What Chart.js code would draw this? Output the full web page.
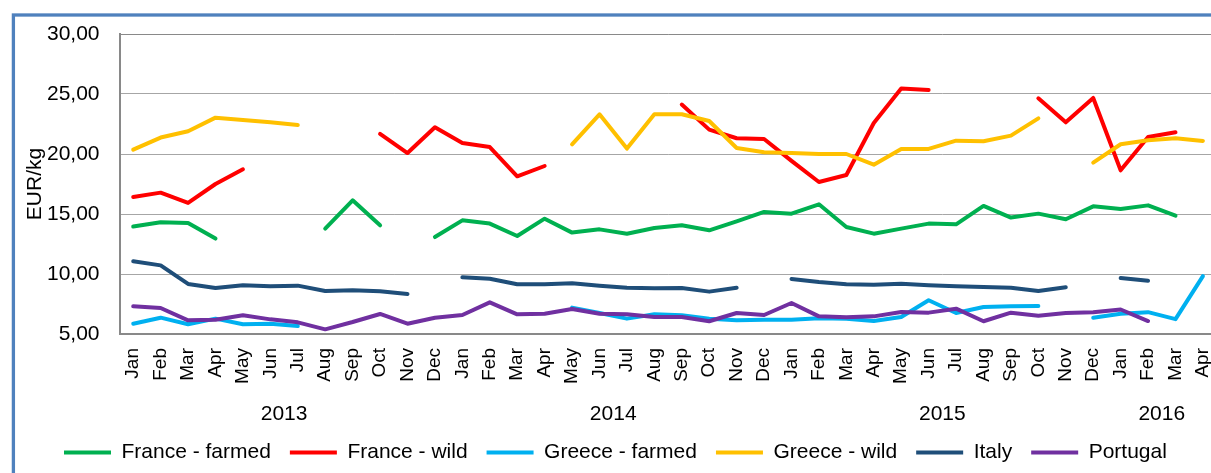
<!DOCTYPE html>
<html>
<head>
<meta charset="utf-8">
<title>Price per kg</title>
<script src="https://cdn.jsdelivr.net/npm/chart.js@4.4.0/dist/chart.umd.min.js"></script>
<style>
  html, body { margin: 0; padding: 0; background: #fff; width: 1211px; height: 473px; overflow: hidden; }
  canvas { display: block; }
</style>
</head>
<body>
<canvas id="chart" width="1240" height="473"></canvas>
<script>
// Monthly categories, Jan 2013 – Apr 2016
const monthLabels = [
  'Jan','Feb','Mar','Apr','May','Jun','Jul','Aug','Sep','Oct','Nov','Dec',
  'Jan','Feb','Mar','Apr','May','Jun','Jul','Aug','Sep','Oct','Nov','Dec',
  'Jan','Feb','Mar','Apr','May','Jun','Jul','Aug','Sep','Oct','Nov','Dec',
  'Jan','Feb','Mar','Apr'
];

// Year groups shown under the month labels (first and last month index of each year)
const yearNames = ['2013', '2014', '2015', '2016'];
const yearFirst = [0, 12, 24, 36];
const yearLast  = [11, 23, 35, 39];

// EUR/kg per series (null = no data that month)
const franceFarmed = [
  13.95, 14.31, 14.25, 12.95, null, null, null, 13.78, 16.14, 14.06, null, 13.08,
  14.47, 14.20, 13.17, 14.61, 13.45, 13.72, 13.36, 13.84, 14.06, 13.64, 14.39, 15.17,
  15.03, 15.81, 13.92, 13.36, 13.78, 14.20, 14.14, 15.67, 14.70, 15.03, 14.56, 15.64,
  15.42, 15.72, 14.86, null
];
const franceWild = [
  16.42, 16.78, 15.92, 17.50, 18.72, null, null, null, null, 21.67, 20.08, 22.23,
  20.92, 20.58, 18.14, 19.00, null, null, null, null, 24.12, 22.03, 21.31, 21.25,
  19.43, 17.67, 18.25, 22.58, 25.45, 25.34, null, null, null, 24.64, 22.64, 24.67,
  18.64, 21.42, 21.81, null
];
const greeceFarmed = [
  5.86, 6.36, 5.81, 6.28, 5.81, 5.86, 5.67, null, null, null, null, null,
  null, null, null, null, 7.20, 6.75, 6.28, 6.64, 6.56, 6.28, 6.14, 6.19,
  6.19, 6.31, 6.28, 6.08, 6.42, 7.81, 6.75, 7.25, 7.31, 7.33, null, 6.36,
  6.68, 6.82, 6.24, 9.82
];
const greeceWild = [
  20.36, 21.37, 21.90, 23.03, 22.83, 22.64, 22.42, null, null, null, null, null,
  null, null, null, null, 20.81, 23.31, 20.45, 23.31, 23.31, 22.75, 20.50, 20.14,
  20.08, 20.00, 20.00, 19.11, 20.42, 20.42, 21.11, 21.06, 21.53, 22.97, null, 19.28,
  20.81, 21.14, 21.31, 21.09
];
const italy = [
  11.06, 10.72, 9.17, 8.83, 9.06, 8.97, 9.03, 8.58, 8.64, 8.56, 8.33, null,
  9.72, 9.61, 9.14, 9.14, 9.22, 9.03, 8.86, 8.81, 8.83, 8.53, 8.86, null,
  9.58, 9.33, 9.14, 9.11, 9.19, 9.06, 8.97, 8.92, 8.86, 8.58, 8.89, null,
  9.66, 9.44, null, null
];
const portugal = [
  7.31, 7.17, 6.14, 6.19, 6.56, 6.22, 5.97, 5.39, 6.00, 6.67, 5.86, 6.36,
  6.58, 7.64, 6.64, 6.69, 7.08, 6.69, 6.64, 6.42, 6.42, 6.06, 6.75, 6.58,
  7.58, 6.47, 6.39, 6.47, 6.83, 6.78, 7.11, 6.06, 6.78, 6.53, 6.75, 6.81,
  7.04, 6.08, null, null
];

const seriesNames  = ['France - farmed', 'France - wild', 'Greece - farmed', 'Greece - wild', 'Italy', 'Portugal'];
const seriesValues = [franceFarmed, franceWild, greeceFarmed, greeceWild, italy, portugal];
const seriesColors = ['#00b050', '#ff0000', '#00b0f0', '#ffc000', '#1f4e79', '#7030a0'];

const FONT = '"Liberation Sans", Arial, Helvetica, sans-serif';
Chart.defaults.font.family = FONT;
Chart.defaults.color = '#000';

const AXIS_LINE = '#898989';
const GRID_LINE = '#a6a6a6';
const PLOT_BOTTOM = 334;

// Blue outer frame and white background
const framePlugin = {
  id: 'frame',
  beforeDraw(chart) {
    const ctx = chart.ctx;
    ctx.save();
    ctx.fillStyle = '#ffffff';
    ctx.fillRect(0, 0, chart.width, chart.height);
    ctx.strokeStyle = '#4f81bd';
    ctx.lineWidth = 3.3;
    ctx.strokeRect(13.4, 15, chart.width + 20, chart.height + 20);
    ctx.restore();
  }
};

// Year captions centred under each year's months
const yearLabelsPlugin = {
  id: 'yearLabels',
  afterDraw(chart) {
    const xs = chart.scales.x;
    const ctx = chart.ctx;
    ctx.save();
    ctx.font = '21px ' + FONT;
    ctx.fillStyle = '#000';
    ctx.textAlign = 'center';
    ctx.textBaseline = 'middle';
    yearNames.forEach((name, i) => {
      const cx = (xs.getPixelForValue(yearFirst[i]) + xs.getPixelForValue(yearLast[i])) / 2;
      ctx.fillText(name, cx, 414.5);
    });
    ctx.restore();
  }
};

const datasets = seriesNames.map((name, i) => ({
  label: name,
  data: seriesValues[i],
  borderColor: seriesColors[i],
  backgroundColor: seriesColors[i],
  borderWidth: 4,
  borderCapStyle: 'round',
  borderJoinStyle: 'round',
  pointRadius: 0,
  pointHoverRadius: 0,
  tension: 0,
  spanGaps: false,
  order: seriesNames.length - 1 - i   // later series drawn on top
}));

new Chart(document.getElementById('chart'), {
  type: 'line',
  data: { labels: monthLabels, datasets },
  plugins: [framePlugin, yearLabelsPlugin],
  options: {
    responsive: false,
    animation: false,
    devicePixelRatio: 1,
    events: [],
    layout: { padding: { left: 45, right: 21.5, top: 34, bottom: 0 } },
    scales: {
      x: {
        offset: true,
        grid: { display: false, drawTicks: false },
        border: { color: AXIS_LINE, width: 2 },
        ticks: {
          autoSkip: false,
          minRotation: 90,
          maxRotation: 90,
          padding: 14,
          color: '#000',
          font: { size: 19 }
        },
        afterFit(scale) {
          scale.height = scale.chart.height - scale.chart.legend.height - PLOT_BOTTOM;
        }
      },
      y: {
        min: 5,
        max: 30,
        ticks: {
          stepSize: 5,
          padding: 20,
          color: '#000',
          font: { size: 21 },
          callback: v => v.toFixed(2).replace('.', ',')
        },
        grid: {
          drawTicks: false,
          lineWidth: 1,
          color: c => (c.tick && c.tick.value === 30) ? AXIS_LINE : GRID_LINE
        },
        border: { color: AXIS_LINE, width: 2 },
        title: {
          display: true,
          text: 'EUR/kg',
          color: '#000',
          font: { size: 21 },
          padding: { top: -22, bottom: 0 }
        },
        afterFit(scale) {
          scale.width = 74.5;
        }
      }
    },
    plugins: {
      tooltip: { enabled: false },
      legend: {
        position: 'bottom',
        align: 'start',
        labels: {
          usePointStyle: true,
          pointStyle: 'line',
          pointStyleWidth: 47,
          padding: 19,
          color: '#000',
          font: { size: 21 },
          sort: (a, b) => a.datasetIndex - b.datasetIndex
        }
      }
    }
  }
});
</script>
</body>
</html>
